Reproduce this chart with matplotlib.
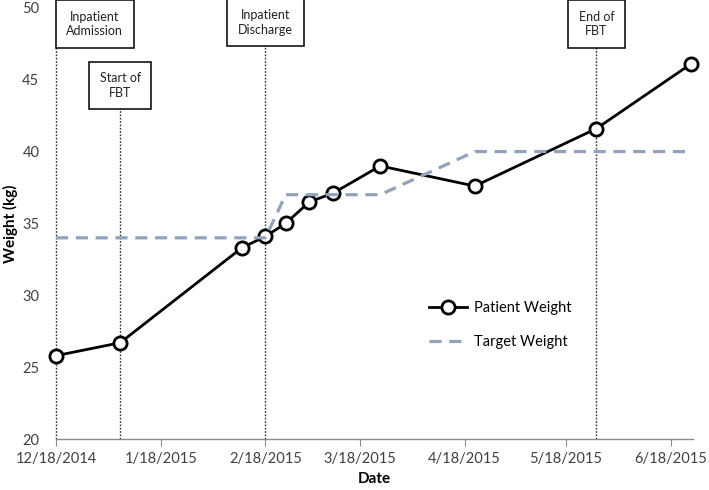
import matplotlib
matplotlib.use("Agg")
import matplotlib.pyplot as plt
import matplotlib.dates as mdates
import pandas as pd

plt.rcParams['font.family'] = ['Lato', 'DejaVu Sans']

# patient weights (kg)
patient_dates = ["2014-12-18", "2015-01-06", "2015-02-11", "2015-02-18", "2015-02-24",
                 "2015-03-03", "2015-03-10", "2015-03-24", "2015-04-21", "2015-05-27",
                 "2015-06-24"]
patient_weight = [25.8, 26.7, 33.3, 34.1, 35.0, 36.5, 37.1, 39.0, 37.6, 41.6, 46.1]

# target weight (kg)
target_dates = ["2014-12-18", "2015-02-18", "2015-02-24", "2015-03-24", "2015-04-21", "2015-06-24"]
target_weight = [34, 34, 37, 37, 40, 40]

# treatment milestones
event_dates = ["2014-12-18", "2015-01-06", "2015-02-18", "2015-05-27"]
event_labels = ["Inpatient\nAdmission", "Start of\nFBT", "Inpatient\nDischarge", "End of\nFBT"]

pd_dates = pd.to_datetime(patient_dates)
td_dates = pd.to_datetime(target_dates)
ev_dates = pd.to_datetime(event_dates)

fig = plt.figure(figsize=(7.09, 4.90), dpi=100)
ax = fig.add_axes([0.079, 0.104, 0.898, 0.880])

# vertical event lines, box bottoms in axes fraction
box_bottom = [0.925, 0.775, 0.93, 0.925]
box_center_off = [11.5, 0, 0, 0]  # days, admission box sits right of its line
box_y = [0.962, 0.82, 0.966, 0.962]
for d, lab, bb, off, by in zip(ev_dates, event_labels, box_bottom, box_center_off, box_y):
    ax.plot([d, d], [0, bb], transform=ax.get_xaxis_transform(), color='#303030',
            lw=1.0, ls=(0, (1.2, 1.2)), zorder=2, clip_on=False)
    ax.text(d + pd.Timedelta(days=off), by, lab, transform=ax.get_xaxis_transform(),
            ha='center', va='center', fontsize=9, color='#222222', linespacing=1.25,
            bbox=dict(boxstyle='square,pad=0.85', fc='white', ec='black', lw=1.1),
            zorder=6, clip_on=False)

ax.plot(pd_dates, patient_weight, color='black', lw=2.0, marker='o', ms=9.5,
        mfc='white', mec='black', mew=2.0, label='Patient Weight', zorder=4, clip_on=False)
ax.plot(td_dates, target_weight, color='#8FA2BE', lw=2.3, dashes=(3.8, 2.4),
        label='Target Weight', zorder=5)

ax.set_xlim(pd_dates[0], pd_dates[-1] + pd.Timedelta(days=0.5))
ax.set_ylim(20, 50)
ax.set_yticks([20, 25, 30, 35, 40, 45, 50])

ax.xaxis.set_major_locator(mdates.MonthLocator(bymonthday=18))
ax.xaxis.set_major_formatter(plt.FuncFormatter(
    lambda v, p: (lambda d: f"{d.month}/{d.day}/{d.year}")(mdates.num2date(v))))

for s in ['top', 'right', 'left']:
    ax.spines[s].set_visible(False)
ax.spines['bottom'].set_color('#8a8a8a')
ax.spines['bottom'].set_linewidth(1.0)
ax.tick_params(axis='x', length=5, color='#8a8a8a', labelsize=10.5, labelcolor='#404040', pad=4)
ax.tick_params(axis='y', length=0, labelsize=10.5, labelcolor='#404040', pad=12)

ax.set_xlabel('Date', fontsize=11, fontweight='bold', labelpad=5)
ax.set_ylabel('Weight (kg)', fontsize=11, fontweight='bold', labelpad=3)

ax.legend(loc='upper left', bbox_to_anchor=(0.565, 0.35), frameon=False, fontsize=10.5,
          handlelength=2.6, labelspacing=1.35, handletextpad=0.5)

fig.savefig('out.png', dpi=100)
